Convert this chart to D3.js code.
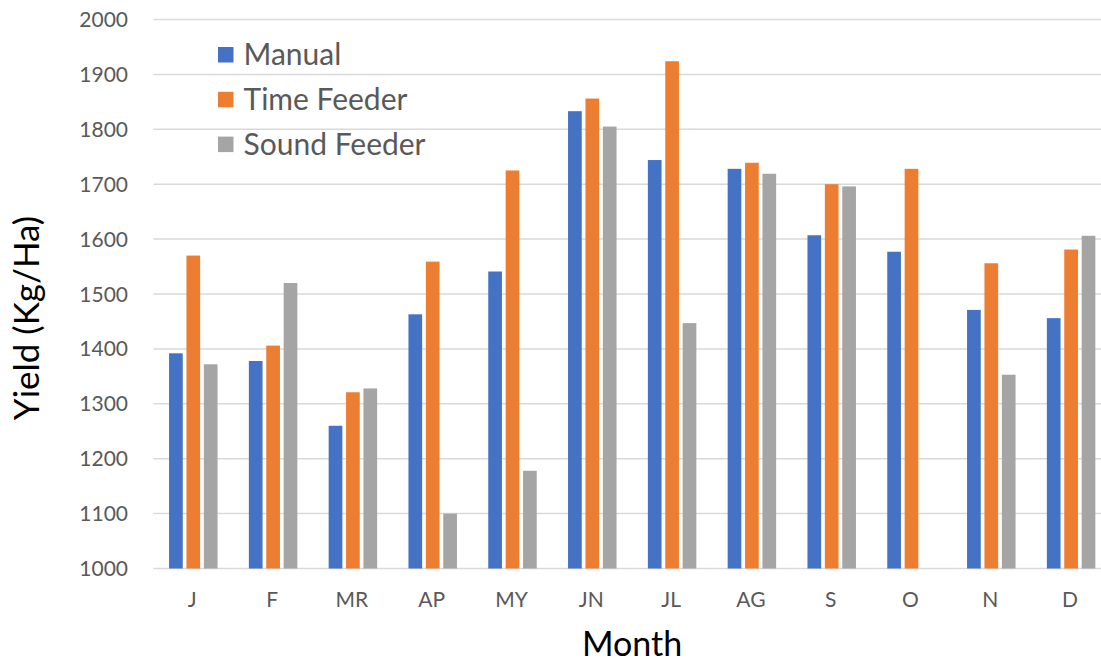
<!DOCTYPE html>
<html><head><meta charset="utf-8">
<script src="https://cdnjs.cloudflare.com/ajax/libs/d3/7.8.5/d3.min.js"></script>
<style>html,body{margin:0;padding:0;background:#fff;overflow:hidden}svg{display:block}text{font-family:Lato,"Open Sans",sans-serif}</style>
</head><body><svg id="c" width="1101" height="664"></svg>
<script>
const months = ["J","F","MR","AP","MY","JN","JL","AG","S","O","N","D"];
const seriesNames = ["Manual","Time Feeder","Sound Feeder"];
const manual = [1392,1378,1260,1463,1541,1833,1744,1728,1607,1577,1471,1456];
const timeFeeder = [1570,1406,1321,1559,1725,1856,1924,1739,1700,1728,1556,1581];
const soundFeeder = [1372,1520,1328,1100,1178,1805,1447,1719,1696,null,1353,1606];
const yTicks = [1000,1100,1200,1300,1400,1500,1600,1700,1800,1900,2000];
const colors = ["#4472C4","#ED7D31","#A5A5A5"];
const values = [manual, timeFeeder, soundFeeder];

const svg = d3.select("#c");
const plotLeft = 153.4, plotRight = 1111, plotTop = 19.5, plotBottom = 568.5;
const x0 = d3.scaleBand().domain(months).range([plotLeft, plotRight]).padding(0);
const x1 = d3.scaleBand().domain(seriesNames).range([0, x0.bandwidth()]).paddingInner(0.213).paddingOuter(0.9);
const y = d3.scaleLinear().domain([1000, 2000]).range([plotBottom, plotTop]);

// gridlines
svg.append("g").selectAll("line").data(yTicks).join("line")
  .attr("x1", plotLeft).attr("x2", plotRight)
  .attr("y1", d => y(d)).attr("y2", d => y(d))
  .attr("stroke", "#d9d9d9").attr("stroke-width", 1.5);

// y tick labels
svg.append("g").selectAll("text").data(yTicks).join("text")
  .attr("x", 128).attr("y", d => y(d)).attr("dy", "0.36em")
  .attr("text-anchor", "end").attr("fill", "#595959").attr("font-size", 21)
  .text(d => d);

// bars
const rows = [];
months.forEach((m, i) => seriesNames.forEach((s, j) => {
  if (values[j][i] != null) rows.push({m, s, v: values[j][i], c: colors[j]});
}));
svg.append("g").selectAll("rect").data(rows).join("rect")
  .attr("x", d => x0(d.m) + x1(d.s))
  .attr("width", x1.bandwidth())
  .attr("y", d => y(d.v))
  .attr("height", d => y(1000) - y(d.v))
  .attr("fill", d => d.c);

// x tick labels
svg.append("g").selectAll("text").data(months).join("text")
  .attr("x", d => x0(d) + x0.bandwidth() / 2 - 1)
  .attr("y", 607).attr("text-anchor", "middle")
  .attr("fill", "#595959").attr("font-size", 21)
  .text(d => d);

// axis titles
svg.append("text").attr("x", 632).attr("y", 656).attr("text-anchor", "middle")
  .attr("font-size", 34).attr("fill", "#000").text("Month");
svg.append("text").attr("transform", "translate(39,318) rotate(-90)")
  .attr("text-anchor", "middle").attr("font-size", 35).attr("fill", "#000")
  .text("Yield (Kg/Ha)");

// legend
const lg = svg.append("g").selectAll("g").data(seriesNames).join("g")
  .attr("transform", (d, i) => `translate(218,${55 + i * 44.8})`);
lg.append("rect").attr("x", 0).attr("y", -8).attr("width", 15.5).attr("height", 15.5)
  .attr("fill", (d, i) => colors[i]);
lg.append("text").attr("x", 25.5).attr("y", 10)
  .attr("font-size", 30).attr("fill", "#595959").text(d => d);
</script></body></html>
